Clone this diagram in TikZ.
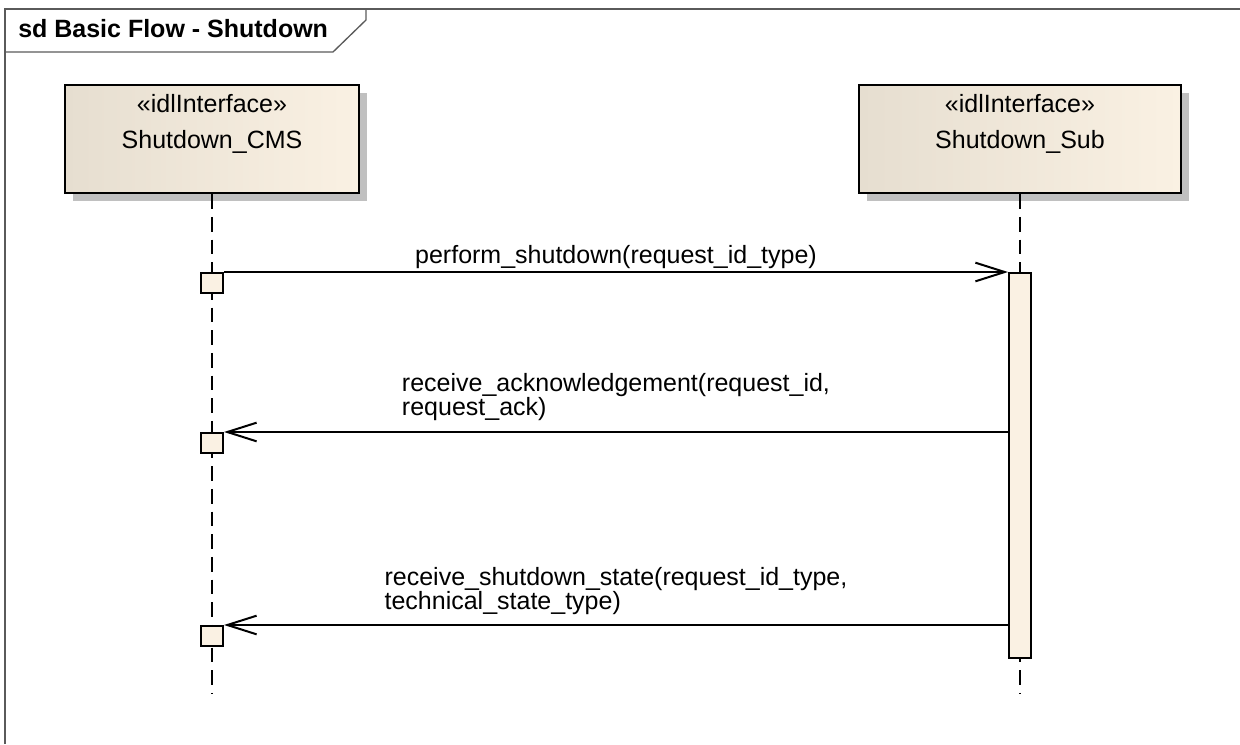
\documentclass[tikz,border=0pt]{standalone}
\usepackage{fontspec}
\setmainfont{Liberation Sans}
\usetikzlibrary{arrows.meta,shadows,positioning}
\definecolor{boxleft}{RGB}{230,222,208}
\definecolor{boxright}{RGB}{250,241,227}
\definecolor{execfill}{RGB}{250,241,227}
\definecolor{framegray}{RGB}{90,90,90}
\definecolor{shadowgray}{RGB}{192,192,192}
\newcommand{\pxu}{0.75pt}
\tikzset{
  lifebox/.style={draw=black, line width=1.9pt, left color=boxleft, right color=boxright,
    minimum height=81pt, inner sep=0pt,
    drop shadow={shadow xshift=6pt, shadow yshift=-6pt, fill=shadowgray, opacity=1}},
  execbox/.style={draw=black, line width=1.5pt, fill=execfill, inner sep=0pt,
    minimum width=16.5pt, minimum height=15pt},
  actbar/.style={draw=black, line width=1.5pt, fill=execfill, inner sep=0pt,
    minimum width=16.5pt, minimum height=288.75pt},
  lifeline/.style={line width=1.5pt, dash pattern=on 11pt off 6pt},
  msg/.style={line width=1.5pt, -{Straight Barb[length=22pt, width=14pt]}},
  txt/.style={font=\fontsize{18.75pt}{18pt}\selectfont, inner sep=0pt},
  msglbl/.style={txt, align=left, anchor=south},
  frameline/.style={draw=framegray, line width=1.4pt},
}
\begin{document}
\begin{tikzpicture}[x=0.75pt, y=-0.75pt]
  \useasboundingbox (0,0) rectangle (1240,744);
  % frame and title tab
  \draw[frameline] (5,744) -- (5,9) -- (1240,9);
  \draw[frameline, line width=1pt] (5,52) -- (333,52) -- (366,20) -- (366,9);
  \node[txt, font=\fontsize{18.75pt}{18pt}\selectfont\bfseries, anchor=base west] (title) at (18,37) {sd Basic Flow - Shutdown};
  % lifeline heads
  \node[lifebox, minimum width=220.5pt] (cms) at (212,139) {};
  \node[txt, anchor=base] (cmsst) at (212,112) {«idlInterface»};
  \node[txt, anchor=base] (cmsname) at (212,148) {Shutdown\_CMS};
  \node[lifebox, minimum width=241.5pt] (sub) at (1020,139) {};
  \node[txt, anchor=base] (subst) at (1020,112) {«idlInterface»};
  \node[txt, anchor=base] (subname) at (1020,148) {Shutdown\_Sub};
  % lifelines
  \coordinate (cmsend) at (212,693);
  \coordinate (subend) at (1020,693);
  \draw[lifeline] (cms.south) -- (cmsend);
  \draw[lifeline] (sub.south) -- (subend);
  % executions
  \node[execbox] (exec1) at (212,283) {};
  \node[execbox] (exec2) at (212,443) {};
  \node[execbox] (exec3) at (212,636) {};
  \node[actbar] (act) at (1020,465.5) {};
  % messages
  \draw[msg] (exec1.north east) -- (act.north west)
    node[msglbl, midway, above=1.5pt] (msg1) {perform\_shutdown(request\_id\_type)};
  \draw[msg] (act.west |- exec2.north) -- (exec2.north east)
    node[msglbl, midway, above=8pt] (msg2) {receive\_acknowledgement(request\_id,\\request\_ack)};
  \draw[msg] (act.west |- exec3.north) -- (exec3.north east)
    node[msglbl, midway, above=7pt] (msg3) {receive\_shutdown\_state(request\_id\_type,\\technical\_state\_type)};
\end{tikzpicture}
\end{document}
